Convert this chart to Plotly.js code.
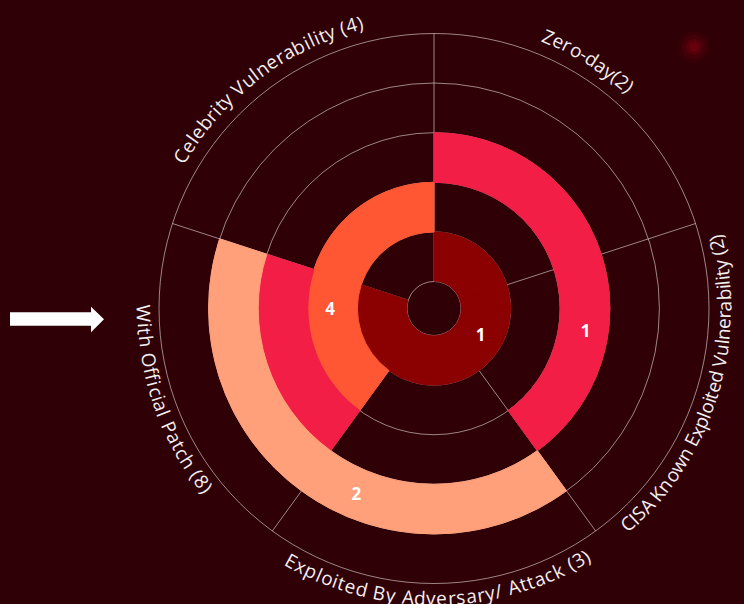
<!DOCTYPE html>
<html>
<head>
<meta charset="utf-8">
<script src="https://cdn.plot.ly/plotly-3.0.1.min.js"></script>
<style>
  html, body { margin: 0; padding: 0; background: #2F0005; }
  #chart { width: 744px; height: 604px; }
</style>
</head>
<body>
<div id="chart"></div>
<script>
// ---------------- DATA ----------------
const categories = [
  'Zero-day(2)',
  'CISA Known Exploited Vulnerability (2)',
  'Exploited By Adversary/ Attack (3)',
  'With Official Patch (8)',
  'Celebrity Vulnerability (4)'
];

// which categories have a filled segment in each ring (ring 1 = innermost)
const ring1Cats = ['Zero-day(2)', 'CISA Known Exploited Vulnerability (2)', 'Exploited By Adversary/ Attack (3)', 'With Official Patch (8)'];
const ring2Cats = ['With Official Patch (8)', 'Celebrity Vulnerability (4)'];
const ring3Cats = ['Zero-day(2)', 'CISA Known Exploited Vulnerability (2)', 'With Official Patch (8)'];
const ring4Cats = ['Exploited By Adversary/ Attack (3)', 'With Official Patch (8)'];
const ringCount = 5;

// value labels shown inside the rings
const valueLabels = ['1', '4', '1', '2'];
const valueLabelCats = ['CISA Known Exploited Vulnerability (2)', 'With Official Patch (8)', 'CISA Known Exploited Vulnerability (2)', 'Exploited By Adversary/ Attack (3)'];
const valueLabelRings = [1, 2, 3, 4];

// ---------------- LAYOUT / STYLE ----------------
const W = 744, H = 604;
const CX = 434, CY = 308.5, R = 275, HOLE = 27;
const BG = '#2F0005';
const GRID = 'rgba(215,205,205,0.65)';
const ringColors = ['#8B0000', '#FF5733', '#F21E46', '#FFA07A'];
const sectorW = 360 / categories.length;
const valueLabelOffsets = [13, 16.5, -9, 22.5];  // degrees from sector centre

// label placement (math angles in degrees, counter-clockwise from +x)
const labelCfg = [
  { center: 58.1,  span: 20.2, upper: true },
  { center: -17.3, span: 64.0, upper: false },
  { center: -89.2, span: 62.7, upper: false },
  { center: 199.1, span: 39.6, upper: false },
  { center: 127.0, span: 46.1, upper: true }
];
const LABEL_FONT = 'Open Sans';
const LABEL_SIZE = 19;

function thetaOf(cat) { return categories.indexOf(cat) * sectorW + sectorW / 2; }

function ringTrace(cats, ring, color) {
  return {
    type: 'barpolar',
    theta: cats.map(thetaOf),
    r: cats.map(() => 1),
    base: cats.map(() => ring - 1),
    width: cats.map(() => sectorW),
    marker: { color: color, line: { width: 1, color: color } },
    hoverinfo: 'skip'
  };
}

const traces = [
  ringTrace(ring1Cats, 1, ringColors[0]),
  ringTrace(ring2Cats, 2, ringColors[1]),
  ringTrace(ring3Cats, 3, ringColors[2]),
  ringTrace(ring4Cats, 4, ringColors[3]),
  {
    type: 'scatterpolar',
    mode: 'text',
    theta: valueLabelCats.map((c, i) => thetaOf(c) + valueLabelOffsets[i]),
    r: valueLabelRings.map(k => k - 0.45),
    text: valueLabels,
    textposition: 'middle center',
    textfont: { family: 'Open Sans', size: 17, color: '#ffffff', weight: 'bold' },
    hoverinfo: 'skip'
  }
];

function toPaper(px, py) { return { x: px / W, y: 1 - py / H }; }

// curved category labels, one annotation per character
const canvas = document.createElement('canvas');
const ctx = canvas.getContext('2d');
ctx.font = LABEL_SIZE + 'px "' + LABEL_FONT + '"';
const annotations = [];
categories.forEach((txt, i) => {
  const cfg = labelCfg[i];
  const r = cfg.upper ? 295 : 290;
  const chars = Array.from(txt);
  const widths = chars.map(ch => ctx.measureText(ch).width);
  const total = widths.reduce((a, b) => a + b, 0);
  const target = cfg.span * Math.PI / 180 * r;
  const extra = (target - total) / (chars.length - 1 || 1);
  let s = 0;
  chars.forEach((ch, j) => {
    const mid = s + widths[j] / 2;
    s += widths[j] + extra;
    if (ch === ' ') return;
    const dTheta = mid / r * 180 / Math.PI;
    const th = cfg.upper ? cfg.center + cfg.span / 2 - dTheta : cfg.center - cfg.span / 2 + dTheta;
    const rad = th * Math.PI / 180;
    const p = toPaper(CX + r * Math.cos(rad), CY - r * Math.sin(rad));
    let ang = cfg.upper ? 90 - th : -(90 + th);
    while (ang > 180) ang -= 360;
    while (ang < -180) ang += 360;
    annotations.push({
      xref: 'paper', yref: 'paper', x: p.x, y: p.y,
      text: ch, showarrow: false, xanchor: 'center', yanchor: 'middle',
      textangle: ang,
      font: { family: LABEL_FONT, size: LABEL_SIZE, color: '#f3eeee' }
    });
  });
});

// arrow on the left
function pathFrom(pts) {
  return pts.map((q, k) => { const p = toPaper(q[0], q[1]); return (k ? 'L' : 'M') + p.x + ',' + p.y; }).join(' ') + ' Z';
}
const shapes = [
  {
    type: 'path', xref: 'paper', yref: 'paper',
    path: pathFrom([[10, 312.3], [91, 312.3], [91, 306.7], [104, 319.3], [91, 332.3], [91, 325.7], [10, 325.7]]),
    fillcolor: '#ffffff', line: { width: 0 }
  }
];
// faint glow spot upper right
[[16, 0.08], [12, 0.14], [8, 0.2], [5, 0.25]].forEach(g => {
  const a = toPaper(694 - g[0], 47 - g[0]), b = toPaper(694 + g[0], 47 + g[0]);
  shapes.push({ type: 'circle', xref: 'paper', yref: 'paper', x0: a.x, x1: b.x, y0: b.y, y1: a.y,
    fillcolor: 'rgba(150,0,20,' + g[1] + ')', line: { width: 0 }, layer: 'below' });
});

const layout = {
  width: W, height: H,
  margin: { l: 0, r: 0, t: 0, b: 0, pad: 0 },
  paper_bgcolor: BG, plot_bgcolor: BG,
  showlegend: false,
  polar: {
    domain: { x: [(CX - R) / W, (CX + R) / W], y: [1 - (CY + R) / H, 1 - (CY - R) / H] },
    hole: HOLE / R,
    bgcolor: 'rgba(0,0,0,0)',
    barmode: 'overlay',
    radialaxis: {
      range: [0, ringCount], tickvals: [0, 1, 2, 3, 4, 5],
      showticklabels: false, ticks: '', showline: false,
      gridcolor: GRID, gridwidth: 1, layer: 'below traces'
    },
    angularaxis: {
      rotation: 90, direction: 'clockwise',
      tickvals: categories.map((c, i) => i * sectorW),
      showticklabels: false, ticks: '',
      gridcolor: GRID, gridwidth: 1, layer: 'below traces',
      showline: true, linecolor: GRID, linewidth: 1
    }
  },
  annotations: annotations,
  shapes: shapes
};

Plotly.newPlot('chart', traces, layout, { displayModeBar: false, staticPlot: true });
</script>
</body>
</html>
